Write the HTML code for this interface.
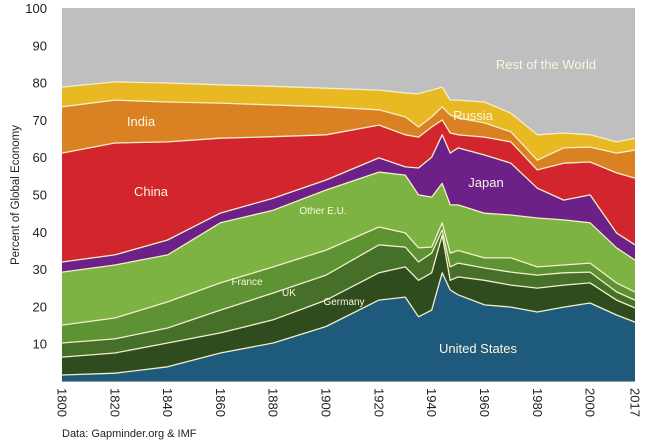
<!DOCTYPE html>
<html><head><meta charset="utf-8"><style>
html,body{margin:0;padding:0;background:#fff;}
svg{display:block;font-family:"Liberation Sans",sans-serif;}
</style></head><body>
<svg id="chart" width="650" height="442" viewBox="0 0 650 442"></svg>
<script>
const years=[1800,1820,1840,1860,1880,1900,1920,1930,1935,1940,1944,1947,1950,1960,1970,1980,1990,2000,2010,2017];
const usShare=[1.6,2.1,3.8,7.5,10.2,14.6,21.7,22.5,17.2,19,29,24.4,23.1,20.4,19.8,18.5,19.8,20.9,17.7,15.8];
const germanyShare=[4.8,5.4,6.4,5.4,6.2,7.1,7.3,8.1,9.8,10,10.1,2.6,4.8,6.6,5.9,6.4,5.9,5.4,4,3.8];
const ukShare=[3.8,3.8,4,6.1,7.2,6.7,7.5,5.3,4.9,5.3,1.4,3.6,3.7,3.3,3.5,3.5,3.3,2.9,2.2,2.1];
const franceShare=[4.8,5.6,7,7.3,7,6.7,4.8,3.8,3.8,1.6,1.9,3.7,3.4,2.7,3.8,2.2,2.1,2.4,2.4,2.2];
const otherEuShare=[14.2,14.2,12.6,16.1,15.2,16.1,14.7,15.5,14.2,13.4,10.6,12.9,12.2,12,11.5,13.1,12.1,10.8,9.4,8.5];
const japanShare=[2.7,2.7,4,2.6,3.2,2.7,3.8,2.2,7.2,10.7,13,13.9,15.3,15.6,13.9,8,5.3,7.5,4,4.1];
const chinaShare=[29.2,30,26.3,20.1,16.5,12.1,8.8,8.6,8.3,8.1,4,5.4,3.5,4.8,5.7,4.9,9.9,8.8,16.1,17.9];
const indiaShare=[12.4,11.5,10.7,9.4,8.5,7.5,4.1,4.8,2.7,2.7,3.5,4.8,4.5,3.8,2.7,2.6,4.1,4,5.3,7.5];
const russiaShare=[5.3,4.9,5.1,4.9,5,5,5.3,6.4,8.9,7.2,5.3,4,4.8,5.6,5,6.8,4,3.3,3,3.2];
const yTicks=[10,20,30,40,50,60,70,80,90,100];
const xTicks=[1800,1820,1840,1860,1880,1900,1920,1940,1960,1980,2000,2017];

const NS="http://www.w3.org/2000/svg";
const svg=document.getElementById('chart');
const X0=62,X1=635,Y0=381,Y100=8;
function xs(yr){return X0+(yr-1800)/(2017-1800)*(X1-X0);}
function ys(v){return Y0-v/100*(Y0-Y100);}
function mk(tag,attrs){const e=document.createElementNS(NS,tag);for(const k in attrs)e.setAttribute(k,attrs[k]);svg.appendChild(e);return e;}

const layers=[
 {name:'united-states',vals:usShare,color:'#1d5a7c'},
 {name:'germany',vals:germanyShare,color:'#2f4c1f'},
 {name:'uk',vals:ukShare,color:'#466f2a'},
 {name:'france',vals:franceShare,color:'#5e9333'},
 {name:'other-eu',vals:otherEuShare,color:'#7db343'},
 {name:'japan',vals:japanShare,color:'#6c2088'},
 {name:'china',vals:chinaShare,color:'#d3252e'},
 {name:'india',vals:indiaShare,color:'#da8223'},
 {name:'russia',vals:russiaShare,color:'#e8b923'}
];
// rest of world background
const bg=mk('rect',{x:X0,y:Y100,width:X1-X0,height:Y0-Y100,fill:'#bfbfbf'});



let cum=years.map(()=>0);
const tops=[];
layers.forEach(l=>{
  const lower=cum.slice();
  cum=cum.map((c,i)=>c+l.vals[i]);
  const upper=cum.slice();
  tops.push(upper);
  let d='M'+years.map((yr,i)=>xs(yr).toFixed(1)+','+ys(upper[i]).toFixed(1)).join('L');
  for(let i=years.length-1;i>=0;i--)d+='L'+xs(years[i]).toFixed(1)+','+ys(lower[i]).toFixed(1);
  d+='Z';
  const p=mk('path',{d:d,fill:l.color});
  
  
});
tops.forEach((t,k)=>{
  const d='M'+years.map((yr,i)=>xs(yr).toFixed(1)+','+ys(t[i]).toFixed(1)).join('L');
  const p=mk('path',{d:d,fill:'none',stroke:'#f3efc8','stroke-width':1.3,'stroke-linejoin':'round'});
  
  
});
const ax=mk('line',{x1:X0,y1:Y0+0.5,x2:X1,y2:Y0+0.5,stroke:'#9a9a9a','stroke-width':1});



yTicks.forEach(v=>{
  const t=mk('text',{x:47,y:ys(v)+5,'text-anchor':'end','font-size':13,fill:'#222'});
  t.textContent=v;
  
  
});
xTicks.forEach(yr=>{
  const x=xs(yr);
  const t=mk('text',{x:0,y:0,'font-size':13,fill:'#222',transform:'translate('+(x-4.5)+',388) rotate(90)'});
  t.textContent=yr;
  
  
});
const yt=mk('text',{x:0,y:0,'font-size':11.5,fill:'#222','text-anchor':'middle',transform:'translate(19,195) rotate(-90)'});
yt.textContent='Percent of Global Economy';


const src=mk('text',{x:62,y:437,'font-size':11,fill:'#222'});
src.textContent='Data: Gapminder.org & IMF';



const labels=[
 ['Rest of the World',546,69,13,'rest-of-world-label'],
 ['Russia',473,120,13,'russia-label'],
 ['India',141,126,13,'india-label'],
 ['China',151,196,13,'china-label'],
 ['Japan',486,187,13,'japan-label'],
 ['Other E.U.',323,214,10,'other-eu-label'],
 ['France',247,285,10,'france-label'],
 ['UK',289,296,10,'uk-label'],
 ['Germany',344,305,10,'germany-label'],
 ['United States',478,353,13,'united-states-label']
];
labels.forEach(a=>{
  const t=mk('text',{x:a[1],y:a[2],'text-anchor':'middle','font-size':a[3],fill:'#fbf6e0'});
  t.textContent=a[0];
  
  
});
</script>
</body></html>
